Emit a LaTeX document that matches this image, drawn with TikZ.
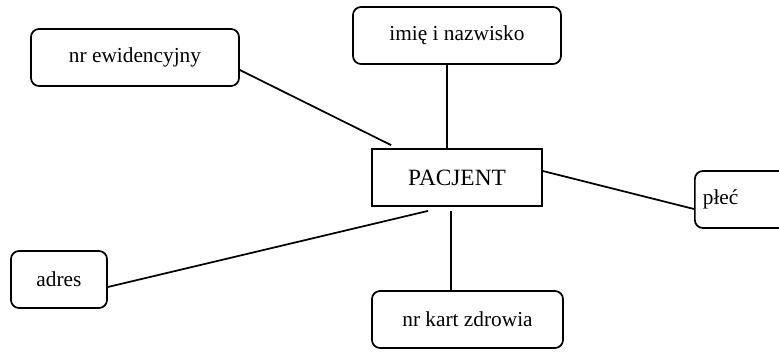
\documentclass[tikz,border=0pt]{standalone}
\usepackage{fontspec}
\setmainfont{Liberation Serif}
\usepackage{tikz}
\tikzset{
  attr/.style={draw, line width=1.3pt, rounded corners=6pt, minimum width=#1, minimum height=42.75pt, inner sep=0pt, font=\fontsize{16}{19}\selectfont},
  attr/.default=156pt,
  encja/.style={draw, line width=1.3pt, minimum width=127.5pt, minimum height=42.75pt, inner sep=0pt, font=\fontsize{17.5}{21}\selectfont},
  link/.style={line width=1.3pt}
}

\begin{document}
\begin{tikzpicture}[x=0.75pt, y=-0.75pt]
  \useasboundingbox (0,0) rectangle (779,351);
  \node[encja] (pacjent) at (457,177.5) {PACJENT};
  \node[attr] (ewid) at (135,57.5) {nr ewidencyjny};
  \node[attr] (imie) at (457,35.5) {imię i nazwisko};
  \node[attr=72pt] (adres) at (59,279.5) {adres};
  \node[attr=143.25pt] (karta) at (467.5,319.5) {nr kart zdrowia};
  \node[attr, minimum width=0pt, anchor=west, text width=61.5pt, align=left, inner xsep=6pt] (plec) at (694,199.5) {płeć};
  \draw[link] ([shift={(0,12.5)}]ewid.east) -- ([shift={(20,-3)}]pacjent.north west);
  \draw[link] ([shift={(-10,0)}]imie.south) -- ([shift={(-10,0)}]pacjent.north);
  \draw[link] ([shift={(0,-6.5)}]pacjent.east) -- ([shift={(0,9.5)}]plec.west);
  \draw[link] ([shift={(0,7.5)}]adres.east) -- ([shift={(57,4)}]pacjent.south west);
  \draw[link] ([shift={(-6,4)}]pacjent.south) -- ([shift={(-16.5,0)}]karta.north);
\end{tikzpicture}
\end{document}
